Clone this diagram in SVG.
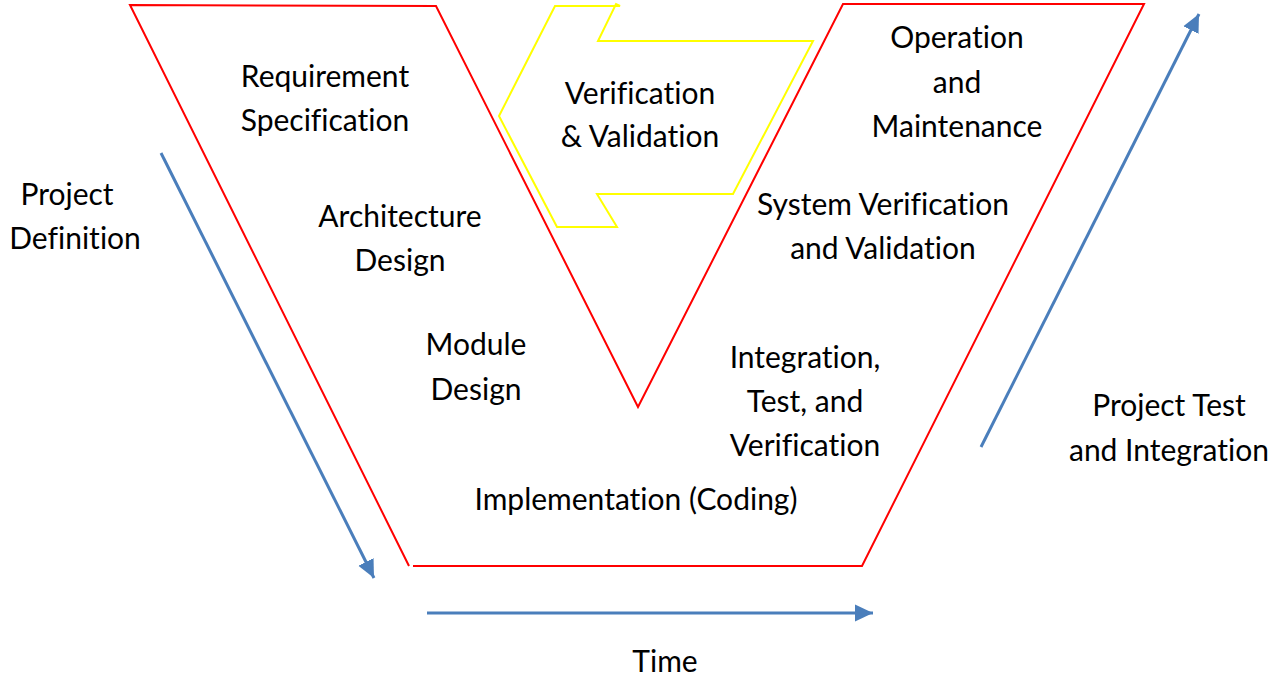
<svg xmlns="http://www.w3.org/2000/svg" width="1268" height="677" viewBox="0 0 1268 677">
<style>
text{font-family:Lato,"Open Sans","Liberation Sans",sans-serif;font-size:30px;fill:#000;text-anchor:middle;font-variant-ligatures:none}
.red{fill:none;stroke:#ff0000;stroke-width:2}
.yel{fill:none;stroke:#ffff00;stroke-width:2}
.blue{fill:none;stroke:#4a7ebb;stroke-width:3}
</style>
<defs>
<marker id="ah" markerUnits="userSpaceOnUse" markerWidth="20" markerHeight="20" viewBox="0 0 20 20" refX="18" refY="10" orient="auto">
<path d="M0,1.5 L18,10 L0,18.5 Z" fill="#4a7ebb"/>
</marker>
</defs>
<rect width="1268" height="677" fill="#fff"/>
<g id="v-shape">
<polyline class="red" points="409,566 130,5 436,6 638,407 843,4 1144,4 862,566 413,566"/>
</g>
<g id="vv-arrow">
<polygon class="yel" points="555,6 620,6 616,4 598,41 813,41 733,194 597,194 617,227 557,227 499,116"/>
</g>
<g id="connectors">
<line class="blue" x1="161" y1="153" x2="374" y2="578" marker-end="url(#ah)"/>
<line class="blue" x1="981" y1="447" x2="1199" y2="14" marker-end="url(#ah)"/>
<line class="blue" x1="427" y1="613" x2="873" y2="613" marker-end="url(#ah)"/>
</g>
<g id="requirement"><text x="325" y="87">Requirement</text><text x="325" y="131">Specification</text></g>
<g id="project-definition"><text x="67" y="205">Project</text><text x="75" y="249">Definition</text></g>
<g id="architecture"><text x="400" y="227">Architecture</text><text x="400" y="271">Design</text></g>
<g id="module"><text x="476" y="355">Module</text><text x="476" y="400">Design</text></g>
<g id="vv-label"><text x="640" y="104">Verification</text><text x="640" y="147">&amp; Validation</text></g>
<g id="operation"><text x="957" y="48">Operation</text><text x="957" y="93">and</text><text x="957" y="137">Maintenance</text></g>
<g id="system-vv"><text x="883" y="215">System Verification</text><text x="883" y="259">and Validation</text></g>
<g id="integration"><text x="805" y="368">Integration,</text><text x="805" y="412">Test, and</text><text x="805" y="456">Verification</text></g>
<g id="implementation"><text x="636" y="510">Implementation (Coding)</text></g>
<g id="project-test"><text x="1169" y="416">Project Test</text><text x="1169" y="461">and Integration</text></g>
<g id="time"><text x="665" y="672">Time</text></g>
</svg>
